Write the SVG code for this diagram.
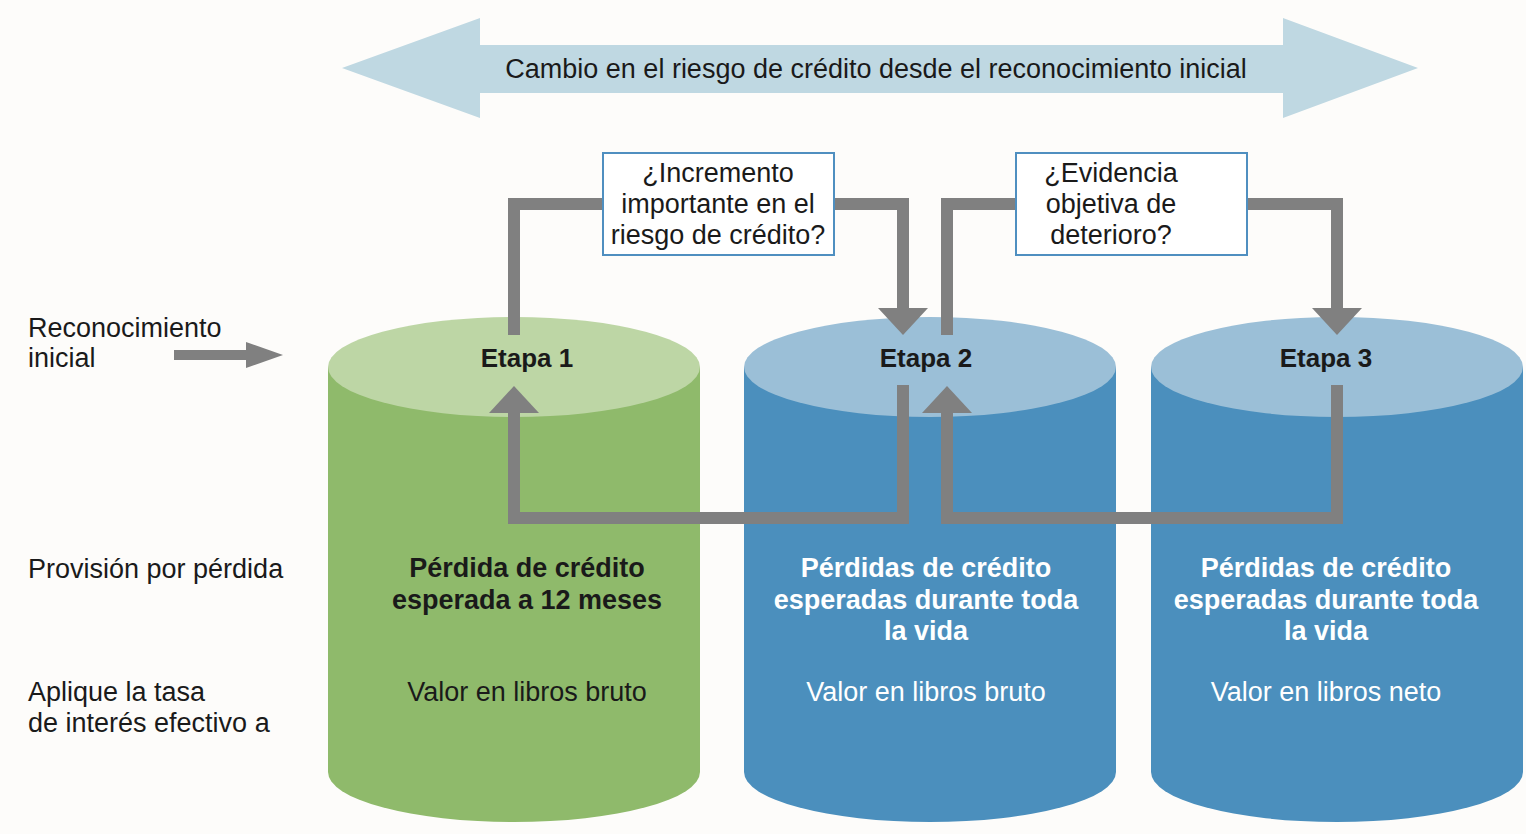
<svg xmlns="http://www.w3.org/2000/svg" width="1526" height="834" viewBox="0 0 1526 834">
<style>
text{font-family:"Liberation Sans",Arial,Helvetica,sans-serif;font-size:27px;fill:#1a1a1a}
.c{text-anchor:middle}
.b{font-weight:bold}
.e{font-size:26px}
.w{fill:#ffffff}
.conn{fill:none;stroke:#808080;stroke-width:12;stroke-linejoin:miter;stroke-linecap:butt}
.box{fill:#ffffff;stroke:#4f8fc0;stroke-width:2}
.gTop{fill:#bdd6a5}.gBody{fill:#8fba6b}
.bTop{fill:#9bbfd7}.bBody{fill:#4b8fbd}
</style>
<defs>
<marker id="head" markerUnits="userSpaceOnUse" viewBox="0 0 27 50" markerWidth="27" markerHeight="50" refX="0" refY="25" orient="auto">
<path d="M0,0 L27,25 L0,50 Z" fill="#808080"/>
</marker>
<marker id="headS" markerUnits="userSpaceOnUse" viewBox="0 0 37 26" markerWidth="37" markerHeight="26" refX="0" refY="13" orient="auto">
<path d="M0,0 L37,13 L0,26 Z" fill="#808080"/>
</marker>
</defs>
<rect x="0" y="0" width="1526" height="834" fill="#fdfcfa"/>

<g id="change-arrow">
<polygon points="342,68 480,18 480,45 1283,45 1283,18 1418,68 1283,118 1283,93 480,93 480,118" fill="#bfd8e2"/>
<text class="c" x="876" y="78">Cambio en el riesgo de crédito desde el reconocimiento inicial</text>
</g>

<g id="row-labels">
<text x="28" y="337">Reconocimiento</text>
<text x="28" y="367">inicial</text>
<text x="28" y="578">Provisión por pérdida</text>
<text x="28" y="701">Aplique la tasa</text>
<text x="28" y="732">de interés efectivo a</text>
</g>

<g id="stage1">
<path class="gBody" d="M328,367 V772 A186,50 0 0 0 700,772 V367 Z"/>
<ellipse class="gTop" cx="514" cy="367" rx="186" ry="50"/>
<text class="c b e" x="527" y="367">Etapa 1</text>
<text class="c b" x="527" y="577">Pérdida de crédito</text>
<text class="c b" x="527" y="609">esperada a 12 meses</text>
<text class="c" x="527" y="701">Valor en libros bruto</text>
</g>

<g id="stage2">
<path class="bBody" d="M744,367 V772 A186,50 0 0 0 1116,772 V367 Z"/>
<ellipse class="bTop" cx="930" cy="367" rx="186" ry="50"/>
<text class="c b e" x="926" y="367">Etapa 2</text>
<text class="c b w" x="926" y="577">Pérdidas de crédito</text>
<text class="c b w" x="926" y="609">esperadas durante toda</text>
<text class="c b w" x="926" y="640">la vida</text>
<text class="c w" x="926" y="701">Valor en libros bruto</text>
</g>

<g id="stage3">
<path class="bBody" d="M1151,367 V772 A186,50 0 0 0 1523,772 V367 Z"/>
<ellipse class="bTop" cx="1337" cy="367" rx="186" ry="50"/>
<text class="c b e" x="1326" y="367">Etapa 3</text>
<text class="c b w" x="1326" y="577">Pérdidas de crédito</text>
<text class="c b w" x="1326" y="609">esperadas durante toda</text>
<text class="c b w" x="1326" y="640">la vida</text>
<text class="c w" x="1326" y="701">Valor en libros neto</text>
</g>

<g id="connectors">
<path class="conn" d="M174,355 H246" style="stroke-width:10" marker-end="url(#headS)"/>
<path class="conn" d="M514,335 V204 H603"/>
<path class="conn" d="M834,204 H903 V308" marker-end="url(#head)"/>
<path class="conn" d="M947,335 V204 H1016"/>
<path class="conn" d="M1247,204 H1337 V308" marker-end="url(#head)"/>
<path class="conn" d="M903,385 V518 H514 V413" marker-end="url(#head)"/>
<path class="conn" d="M1337,385 V518 H947 V413" marker-end="url(#head)"/>
</g>

<g id="q1">
<rect class="box" x="603" y="153" width="231" height="102"/>
<text class="c" x="718" y="182">¿Incremento</text>
<text class="c" x="718" y="213">importante en el</text>
<text class="c" x="718" y="244">riesgo de crédito?</text>
</g>

<g id="q2">
<rect class="box" x="1016" y="153" width="231" height="102"/>
<text class="c" x="1111" y="182">¿Evidencia</text>
<text class="c" x="1111" y="213">objetiva de</text>
<text class="c" x="1111" y="244">deterioro?</text>
</g>
</svg>
